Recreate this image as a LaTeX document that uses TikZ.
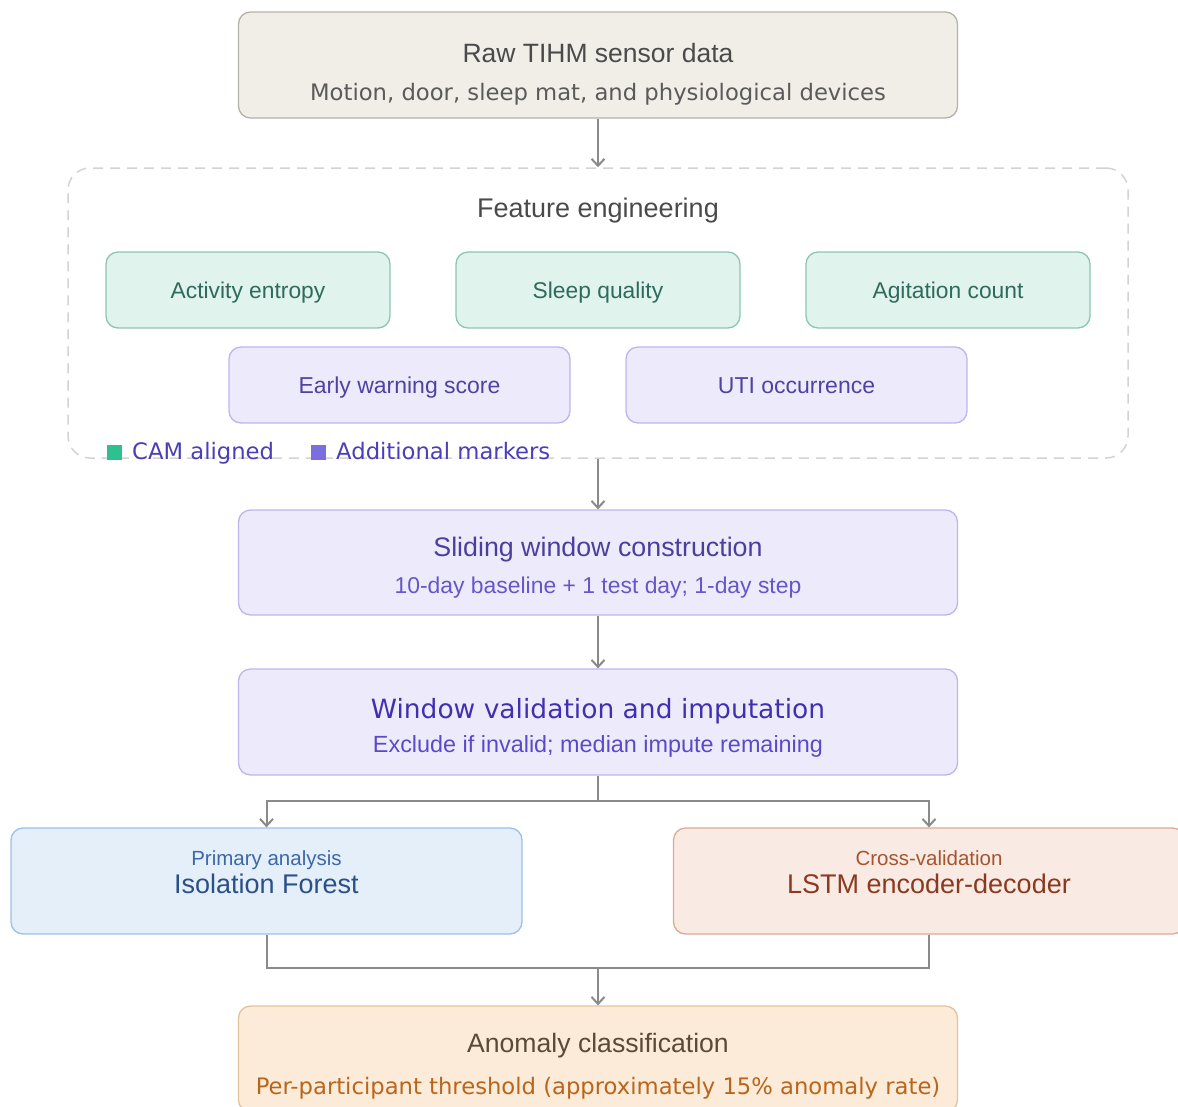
\documentclass[tikz,border=0pt]{standalone}
\usepackage{fontspec}
\setmainfont{Liberation Sans}
\newfontfamily\dv{DejaVu Sans}
\usetikzlibrary{arrows.meta}
\definecolor{rawfill}{HTML}{F1EEE8}\definecolor{rawdraw}{HTML}{B5B2AA}
\definecolor{rawtext}{HTML}{4A4A4A}\definecolor{rawsub}{HTML}{5A5A5A}
\definecolor{grfill}{HTML}{E0F3EC}\definecolor{grdraw}{HTML}{8DC7B0}\definecolor{grtext}{HTML}{2E6B5C}
\definecolor{pufill}{HTML}{EDEBFB}\definecolor{pudraw}{HTML}{BEB5EF}\definecolor{putext}{HTML}{4D43A0}
\definecolor{sltitle}{HTML}{4B3F9E}\definecolor{slsub}{HTML}{6656C8}
\definecolor{wvtitle}{HTML}{4030B0}\definecolor{wvsub}{HTML}{5A4AC8}
\definecolor{blfill}{HTML}{E4EFFA}\definecolor{bldraw}{HTML}{9DC0E6}\definecolor{bltext}{HTML}{2B5088}\definecolor{blsub}{HTML}{3D68A8}
\definecolor{rdfill}{HTML}{FAEAE4}\definecolor{rddraw}{HTML}{DFA894}\definecolor{rdtext}{HTML}{8A3A1E}\definecolor{rdsub}{HTML}{A5552E}
\definecolor{orfill}{HTML}{FCEBD8}\definecolor{ordraw}{HTML}{E0C49E}\definecolor{ortext}{HTML}{5A4A3A}\definecolor{orsub}{HTML}{B8661C}
\definecolor{lggreen}{HTML}{2EC08E}\definecolor{lgpurple}{HTML}{7B6FE0}\definecolor{lgtext}{HTML}{4A3FB8}
\definecolor{dashc}{HTML}{D3D3D3}\definecolor{arrc}{HTML}{8A8A88}
\begin{document}
\begin{tikzpicture}[x=1pt,y=-1pt,
  box/.style={draw, rounded corners=12pt, line width=1.3pt, inner sep=0pt, anchor=center},
  txt/.style={inner sep=0pt, anchor=center, text height=0.72em, text depth=0.2em, yshift=-6pt},
  conn/.style={draw=arrc, line width=2pt},
  arr/.style={conn, -{Straight Barb[length=7pt,width=13pt,line width=2pt]}},
]
\useasboundingbox (0,0) rectangle (1178,1106);
% Raw
\node[box, fill=rawfill, draw=rawdraw, minimum width=719pt, minimum height=106pt] (raw) at (598,65) {};
\node[txt, text=rawtext, font=\fontsize{26.5}{30}\selectfont] (rawt) at (598,54) {Raw TIHM sensor data};
\node[txt, text=rawsub, font=\dv\fontsize{22.7}{26}\selectfont] (raws) at (598,92) {Motion, door, sleep mat, and physiological devices};
% Feature engineering container
\node[draw=dashc, dashed, dash pattern=on 10pt off 7pt, line width=1.5pt, rounded corners=22pt, minimum width=1060pt, minimum height=290pt, inner sep=0pt] (fe) at (598,313) {};
\node[txt, text=rawtext, font=\fontsize{27}{30}\selectfont] (fet) at (598,209) {Feature engineering};
\node[box, fill=grfill, draw=grdraw, minimum width=284pt, minimum height=76pt] (ae) at (248,290) {};
\node[box, fill=grfill, draw=grdraw, minimum width=284pt, minimum height=76pt] (sq) at (598,290) {};
\node[box, fill=grfill, draw=grdraw, minimum width=284pt, minimum height=76pt] (ac) at (948,290) {};
\node[txt, text=grtext, font=\fontsize{22.8}{26}\selectfont] (aet) at (248,290) {Activity entropy};
\node[txt, text=grtext, font=\fontsize{22.8}{26}\selectfont] (sqt) at (598,290) {Sleep quality};
\node[txt, text=grtext, font=\fontsize{22.8}{26}\selectfont] (act) at (948,290) {Agitation count};
\node[box, fill=pufill, draw=pudraw, minimum width=341pt, minimum height=76pt] (ew) at (399.5,385) {};
\node[box, fill=pufill, draw=pudraw, minimum width=341pt, minimum height=76pt] (uti) at (796.5,385) {};
\node[txt, text=putext, font=\fontsize{23}{26}\selectfont] (ewt) at (399.5,385) {Early warning score};
\node[txt, text=putext, font=\fontsize{23}{26}\selectfont] (utit) at (796.5,385) {UTI occurrence};
% legend
\node[fill=lggreen, minimum size=15pt, inner sep=0pt] (lg1) at (114,452) {};
\node[txt, anchor=west, text=lgtext, font=\dv\fontsize{22.7}{26}\selectfont] (lg1t) at (132,451) {CAM aligned};
\node[fill=lgpurple, minimum size=15pt, inner sep=0pt] (lg2) at (318,452) {};
\node[txt, anchor=west, text=lgtext, font=\dv\fontsize{22.7}{26}\selectfont] (lg2t) at (336,451) {Additional markers};
% Sliding window
\node[box, fill=pufill, draw=pudraw, minimum width=719pt, minimum height=105pt] (sw) at (598,562.5) {};
\node[txt, text=sltitle, font=\fontsize{26.8}{30}\selectfont] (swt) at (598,548) {Sliding window construction};
\node[txt, text=slsub, font=\fontsize{22.9}{26}\selectfont] (sws) at (598,585) {10-day baseline + 1 test day; 1-day step};
% Window validation
\node[box, fill=pufill, draw=pudraw, minimum width=719pt, minimum height=106pt] (wv) at (598,722) {};
\node[txt, text=wvtitle, font=\dv\fontsize{26.5}{30}\selectfont] (wvt) at (598,710) {Window validation and imputation};
\node[txt, text=wvsub, font=\fontsize{23.4}{26}\selectfont] (wvs) at (598,744) {Exclude if invalid; median impute remaining};
% Isolation forest
\node[box, fill=blfill, draw=bldraw, minimum width=511pt, minimum height=106pt] (if) at (266.5,881) {};
\node[txt, text=blsub, font=\fontsize{20.5}{22}\selectfont] (ift) at (266.5,857) {Primary analysis};
\node[txt, text=bltext, font=\fontsize{27}{30}\selectfont] (ifs) at (266.5,885) {Isolation Forest};
% LSTM
\node[box, fill=rdfill, draw=rddraw, minimum width=511pt, minimum height=106pt] (ls) at (929,881) {};
\node[txt, text=rdsub, font=\fontsize{20.5}{22}\selectfont] (lst) at (929,857) {Cross-validation};
\node[txt, text=rdtext, font=\fontsize{27}{30}\selectfont] (lss) at (929,885) {LSTM encoder-decoder};
% Anomaly
\node[box, fill=orfill, draw=ordraw, minimum width=719pt, minimum height=106pt] (an) at (598,1059) {};
\node[txt, text=ortext, font=\fontsize{26.6}{30}\selectfont] (ant) at (598,1044) {Anomaly classification};
\node[txt, text=orsub, font=\dv\fontsize{22.7}{25}\selectfont] (ans) at (598,1086) {Per-participant threshold (approximately 15\% anomaly rate)};
% connectors
\coordinate (split) at (598,801);
\coordinate (merge) at (598,968);
\draw[arr] (raw.south) -- (fe.north);
\draw[arr] (fe.south) -- (sw.north);
\draw[arr] (sw.south) -- (wv.north);
\draw[conn] (wv.south) -- (split);
\draw[arr] (split) -| (if.north);
\draw[arr] (split) -| (ls.north);
\draw[conn] (if.south) |- (merge);
\draw[conn] (ls.south) |- (merge);
\draw[arr] (merge) -- (an.north);
\end{tikzpicture}
\end{document}
